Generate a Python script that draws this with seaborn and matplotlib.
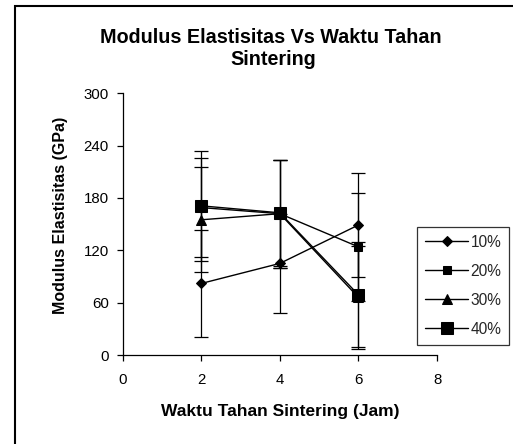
import matplotlib
matplotlib.use("Agg")
import matplotlib.pyplot as plt
import seaborn as sns
import pandas as pd
from matplotlib.patches import Rectangle

# data
waktu = [2, 4, 6]
series_labels = ["10%", "20%", "30%", "40%"]
mod_10 = [82, 105, 149]
mod_20 = [169, 162, 124]
mod_30 = [155, 162, 66]
mod_40 = [171, 163, 69]
err_10 = [61, 57, 60]
err_20 = [57, 62, 62]
err_30 = [60, 62, 59]
err_40 = [63, 61, 60]

values = [mod_10, mod_20, mod_30, mod_40]
errors = [err_10, err_20, err_30, err_40]
markers = ["D", "s", "^", "s"]
msizes = [4.8, 5.5, 7.5, 9.2]

sns.set_theme(style="white")
plt.rcParams["font.family"] = ["Liberation Sans", "DejaVu Sans"]

fig = plt.figure(figsize=(5.13, 4.44), dpi=100)
ax = fig.add_axes([122.7 / 513, 1 - 355 / 444, (437 - 122.7) / 513, (355 - 93.3) / 444])

for lab, vals, errs, mk, ms in zip(series_labels, values, errors, markers, msizes):
    df = pd.DataFrame({"x": waktu, "y": vals})
    ax.errorbar(df["x"], df["y"], yerr=errs, fmt="none", ecolor="black",
                elinewidth=0.9, capsize=5, capthick=0.9, zorder=2)
    sns.lineplot(data=df, x="x", y="y", ax=ax, color="black", linewidth=1,
                 marker=mk, markersize=ms, markeredgecolor="black",
                 markerfacecolor="black", label=lab, zorder=3)

ax.set_xlim(0, 8)
ax.set_ylim(0, 300)
ax.set_xticks([0, 2, 4, 6, 8])
ax.set_yticks([0, 60, 120, 180, 240, 300])
ax.tick_params(axis="both", direction="out", length=4, width=0.9, color="black",
               labelsize=10.8, labelcolor="black", bottom=True, left=True)
ax.tick_params(axis="x", pad=9)
ax.tick_params(axis="y", pad=6)
for s in ["top", "right"]:
    ax.spines[s].set_visible(False)
for s in ["left", "bottom"]:
    ax.spines[s].set_color("black")
    ax.spines[s].set_linewidth(0.9)
ax.grid(False)
ax.set_xlabel("")
ax.set_ylabel("")
fig.text(280 / 513, 1 - 411.5 / 444, "Waktu Tahan Sintering (Jam)", ha="center", va="center",
         fontsize=12.5, fontweight="bold", color="black")
fig.text(61 / 513, 1 - 215 / 444, "Modulus Elastisitas (GPa)", ha="center", va="center",
         rotation=90, fontsize=11.5, fontweight="bold", color="black")

ax.get_legend().remove()
handles, labels = ax.get_legend_handles_labels()
leg = fig.legend(handles, labels, loc="upper left",
                 bbox_to_anchor=(417 / 513, 1 - 227 / 444), bbox_transform=fig.transFigure,
                 fontsize=11.2, frameon=True, fancybox=False, shadow=False,
                 handlelength=2.8, handletextpad=0.15, labelspacing=0.9,
                 borderpad=0.5, borderaxespad=0)
leg.get_frame().set_edgecolor("black")
leg.get_frame().set_linewidth(0.9)
leg.get_frame().set_facecolor("white")

fig.text(271 / 513, 1 - 43.3 / 444, "Modulus Elastisitas Vs Waktu Tahan", ha="center", va="baseline",
         fontsize=14.2, fontweight="bold", color="black")
fig.text(273 / 513, 1 - 65 / 444, "Sintering", ha="center", va="baseline",
         fontsize=14.2, fontweight="bold", color="black")

fig.patches.append(Rectangle((15 / 513, -0.1), 1.2, 1.1 - 6 / 444, transform=fig.transFigure,
                             fill=False, edgecolor="black", linewidth=1.5))

fig.savefig("out.png", dpi=100)
